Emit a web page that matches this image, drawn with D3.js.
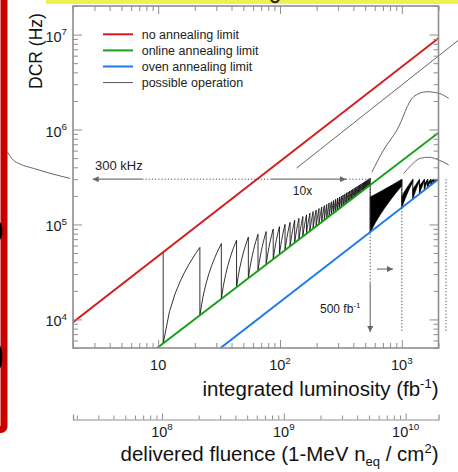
<!DOCTYPE html>
<html>
<head>
<meta charset="utf-8">
<script src="https://cdn.jsdelivr.net/npm/d3@7/dist/d3.min.js"></script>
<style>
html,body{margin:0;padding:0;background:#fff;}
svg{display:block;font-family:"Liberation Sans",Arial,Helvetica,sans-serif;}
</style>
</head>
<body>
<svg id="chart" width="458" height="472"></svg>
<script>
// ---------------- data ----------------
const lumiDomain = [2, 2000];              // integrated luminosity, fb^-1
const dcrDomain = [5e3, 2e7];              // dark count rate, Hz
const fluenceDomain = [1.86e7, 1.86e10];   // 1-MeV n_eq / cm^2

const lumiLabelTicks = [10, 100, 1000];
const dcrLabelTicks = [1e4, 1e5, 1e6, 1e7];
const fluenceLabelTicks = [1e8, 1e9, 1e10];

// limit lines (kHz)
const noAnnealLumi = [2, 2000];
const noAnnealKHz = [9.35, 9150];
const onlineLumi = [9.8, 2000];
const onlineKHz = [5.0, 925];
const ovenLumi = [32.5, 2000];
const ovenKHz = [5.0, 300];

// online-annealing sawtooth: annealing points, DCR just before and just after
const annealLumi = [11,22,33,44,55,66,77,88,99,110,121,132,143,154,165,176,187,198,209,220,231,242,253,264,275,286,297,308,319,330,341,352,363,374,385,396,407,418,429,440,451,462,473,484,495,506,517,528,539,550];
const peakKHz = [51.7,57.3,62.8,68.2,73.6,78.9,84.2,89.6,94.9,100.2,105.4,110.7,116.0,121.2,126.5,131.7,136.9,142.2,147.4,152.6,157.8,163.0,168.2,173.4,178.6,183.8,189.0,194.2,199.4,204.6,209.7,214.9,220.1,225.2,230.4,235.6,240.7,245.9,251.0,256.2,261.3,266.5,271.6,276.7,281.9,287.0,292.2,297.3,302.4,307.6];
const baseKHz = [5.6,11.1,16.5,21.9,27.2,32.5,37.9,43.2,48.5,53.7,59.0,64.3,69.5,74.8,80.0,85.2,90.5,95.7,100.9,106.1,111.3,116.5,121.7,126.9,132.1,137.3,142.5,147.7,152.9,158.0,163.2,168.4,173.5,178.7,183.9,189.0,194.2,199.3,204.5,209.6,214.8,219.9,225.0,230.2,235.3,240.5,245.6,250.7,255.9,82.5];

// dense operation bands after oven annealing
const bandStartLumi = [550, 1000, 1231, 1396, 1531, 1630, 1733, 1815, 1885, 1945];
const bandEndLumi = [1000, 1231, 1396, 1531, 1630, 1733, 1815, 1885, 1945, 2000];
const bandFloorKHz = [82.5, 150, 184.7, 209.4, 229.7, 244.5, 260, 272.3, 282.8, 291.8];
const bandUpperStartKHz = [195, 200, 235, 255, 268, 276, 284, 289, 293, 296];
const bandLowerEndKHz = [255, 280, 285, 288, 290, 292, 294, 296, 297, 298];
const capKHz = 300;

// other "possible operation" curves (kHz)
const op1Lumi = [137, 2940];
const op1KHz = [393, 8800];
const op2Lumi = [568, 708, 912, 1250, 1610, 2010, 2427];
const op2KHz = [356, 608, 988, 2220, 2500, 2410, 2130];
const op3Lumi = [1035, 1175, 1419, 1662, 2010, 2427];
const op3KHz = [345, 412, 498, 510, 478, 424];
// curve of the neighbouring panel visible at the left edge
const edgeLumi = [0.578, 0.647, 0.735, 0.944, 1.295, 1.89];
const edgeKHz = [583, 477, 433, 390, 346, 306];

// annotations (data coordinates)
const capLeftArrowLumi = [7.4, 2.9];
const capDotLumi = [7.4, 84];
const tenXArrowLumi = [84, 348];
const tenXDotLumi = [348, 550];
const markLumi = [550, 1000, 2305];
const markBottomKHz = 7.35;
const downArrowKHz = [24.1, 7.35];
const rightArrowLumi = [625, 846];
const rightArrowKHz = 33.9;

const legendLabels = ["no annealing limit", "online annealing limit", "oven annealing limit", "possible operation"];
const legendColors = ["#d41a1a", "#17a017", "#2079ec", "#555555"];
const legendWidths = [2, 2, 2, 1];

// ---------------- drawing ----------------
const svg = d3.select('#chart');
const P = {left: 73, right: 438.5, top: 6, bottom: 348};
const x = d3.scaleLog().domain(lumiDomain).range([P.left, P.right]);
const y = d3.scaleLog().domain(dcrDomain).range([P.bottom, P.top]);
const xf = d3.scaleLog().domain(fluenceDomain).range([P.left, P.right]);
const yk = v => y(v * 1e3);
const pts = (L, V) => L.map((l, i) => [l, V[i]]);
const lineK = d3.line().x(d => x(d[0])).y(d => yk(d[1]));
const isMajor = v => { const e = Math.log10(v); return Math.abs(e - Math.round(e)) < 1e-6; };
const AX = "#8e8e8e";

// slide decorations
svg.append('rect').attr('x', 46).attr('y', -2).attr('width', 420).attr('height', 6).attr('fill', '#eef150');
svg.append('path').attr('d', 'M271,0 Q275,4.5 279,0').attr('fill', 'none').attr('stroke', '#222').attr('stroke-width', 2);
svg.append('path').datum(pts(edgeLumi, edgeKHz))
  .attr('d', d3.line().x(d => x(d[0])).y(d => yk(d[1])).curve(d3.curveMonotoneX))
  .attr('fill', 'none').attr('stroke', '#666').attr('stroke-width', 1);
svg.append('rect').attr('x', -100).attr('y', -10).attr('width', 104).attr('height', 439.5).attr('rx', 3)
  .attr('fill', 'none').attr('stroke', '#c80000').attr('stroke-width', 7);
svg.append('ellipse').attr('cx', -3.5).attr('cy', 231).attr('rx', 6).attr('ry', 11).attr('fill', '#000');
svg.append('ellipse').attr('cx', -3.5).attr('cy', 357).attr('rx', 6).attr('ry', 14).attr('fill', '#000');

// clip
svg.append('defs').append('clipPath').attr('id', 'plotclip').append('rect')
  .attr('x', P.left).attr('y', P.top).attr('width', P.right - P.left).attr('height', P.bottom - P.top);
const defs = svg.select('defs');
defs.append('marker').attr('id', 'ah').attr('viewBox', '0 0 10 10').attr('refX', 10).attr('refY', 5)
  .attr('markerWidth', 7).attr('markerHeight', 6).attr('markerUnits', 'userSpaceOnUse').attr('orient', 'auto')
  .append('path').attr('d', 'M0,0 L10,5 L0,10 z').attr('fill', '#666');

const clipG = svg.append('g').attr('clip-path', 'url(#plotclip)');

// sawtooth (black, thin)
const riseSteps = 8;
function rise(L0, v0, L1, v1) {
  const iL = d3.interpolateNumber(L0, L1), iV = d3.interpolateNumber(v0, v1);
  return d3.range(riseSteps + 1).map(i => [iL(i / riseSteps), iV(i / riseSteps)]);
}
let saw = [];
annealLumi.forEach((L, k) => {
  saw.push([L, peakKHz[k]]);
  saw.push([L, baseKHz[k]]);
  if (k < annealLumi.length - 1) saw = saw.concat(rise(L, baseKHz[k], annealLumi[k + 1], peakKHz[k + 1]).slice(1, -1));
});
clipG.append('path').datum(saw).attr('d', lineK).attr('fill', 'none').attr('stroke', '#000').attr('stroke-width', 0.8);

// dense bands
bandStartLumi.forEach((Ls, i) => {
  const Le = bandEndLumi[i];
  if (i > 0) {
    clipG.append('path').datum([[Ls, capKHz], [Ls, bandFloorKHz[i]]]).attr('d', lineK)
      .attr('stroke', '#000').attr('stroke-width', 0.9);
  }
  const upper = rise(Ls, bandUpperStartKHz[i], Le, capKHz);
  const lower = rise(Ls, bandFloorKHz[i], Le, bandLowerEndKHz[i]).reverse();
  const poly = [[Ls, bandFloorKHz[i]]].concat(upper, lower);
  clipG.append('path').datum(poly).attr('d', d => lineK(d) + 'Z')
    .attr('fill', '#000').attr('stroke', '#000').attr('stroke-width', 0.6);
});

// limit lines
[[noAnnealLumi, noAnnealKHz, legendColors[0]], [onlineLumi, onlineKHz, legendColors[1]], [ovenLumi, ovenKHz, legendColors[2]]]
  .forEach(([L, V, c]) => {
    clipG.append('path').datum(pts(L, V)).attr('d', lineK).attr('fill', 'none').attr('stroke', c).attr('stroke-width', 2);
  });

// possible operation curves (extend beyond frame)
const curveK = d3.line().x(d => x(d[0])).y(d => yk(d[1])).curve(d3.curveMonotoneX);
[[op1Lumi, op1KHz], [op2Lumi, op2KHz], [op3Lumi, op3KHz]].forEach(([L, V]) => {
  svg.append('path').datum(pts(L, V)).attr('d', curveK).attr('fill', 'none').attr('stroke', '#666').attr('stroke-width', 1);
});

// frame
svg.append('rect').attr('x', P.left).attr('y', P.top).attr('width', P.right - P.left).attr('height', P.bottom - P.top)
  .attr('fill', 'none').attr('stroke', AX).attr('stroke-width', 1.6);

function inTicks(axisGen, tr, attr, major, minor, sign, scale) {
  const g = svg.append('g').attr('transform', tr)
    .call(axisGen.tickValues(scale.ticks()).tickSize(major).tickSizeOuter(0).tickFormat(''));
  g.select('.domain').remove();
  g.selectAll('.tick line').attr(attr, d => sign * (isMajor(d) ? major : minor)).attr('stroke', AX).attr('stroke-width', 1);
}
inTicks(d3.axisRight(y), `translate(${P.left},0)`, 'x2', 9, 5, 1, y);
inTicks(d3.axisLeft(y), `translate(${P.right},0)`, 'x2', 9, 5, -1, y);
inTicks(d3.axisTop(x), `translate(0,${P.bottom})`, 'y2', 8, 5, -1, x);
inTicks(d3.axisBottom(x), `translate(0,${P.top})`, 'y2', 8, 5, 1, x);

// fluence axis
const fy = 419.5;
const fg = svg.append('g').attr('transform', `translate(0,${fy})`)
  .call(d3.axisTop(xf).tickValues(xf.ticks()).tickSize(6).tickSizeOuter(5).tickFormat(''));
fg.select('.domain').attr('stroke', AX).attr('stroke-width', 1.2);
fg.selectAll('.tick line').attr('y2', d => isMajor(d) ? -6 : -4).attr('stroke', AX);

// tick labels
function powText(v, px, py, anchor, size) {
  const e = Math.round(Math.log10(v));
  const t = svg.append('text').attr('x', px).attr('y', py).attr('text-anchor', anchor)
    .attr('font-size', size).attr('fill', '#1a1a1a');
  t.append('tspan').text('10');
  if (e !== 1) t.append('tspan').attr('font-size', size * 0.68).attr('dy', -size * 0.42).text(e);
}
dcrLabelTicks.forEach(v => powText(v, 67, y(v) + 7, 'end', 14.5));
lumiLabelTicks.forEach(v => powText(v, x(v), 370, 'middle', 14.5));
fluenceLabelTicks.forEach(v => powText(v, xf(v), 436.5, 'middle', 14.5));

// axis titles
const t1 = svg.append('text').attr('x', P.right).attr('y', 396).attr('text-anchor', 'end').attr('font-size', 20.5).attr('fill', '#111');
t1.append('tspan').text('integrated luminosity (fb');
t1.append('tspan').attr('font-size', 13).attr('dy', -8).text('-1');
t1.append('tspan').attr('dy', 8).text(')');

const t2 = svg.append('text').attr('x', P.right).attr('y', 461).attr('text-anchor', 'end').attr('font-size', 20.5).attr('fill', '#111');
t2.append('tspan').text('delivered fluence (1-MeV n');
t2.append('tspan').attr('font-size', 13).attr('dy', 5).text('eq');
t2.append('tspan').attr('dy', -5).text(' / cm');
t2.append('tspan').attr('font-size', 13).attr('dy', -8).text('2');
t2.append('tspan').attr('dy', 8).text(')');

svg.append('text').attr('transform', 'translate(42,51) rotate(-90)').attr('text-anchor', 'middle')
  .attr('font-size', 17.5).attr('fill', '#111').text('DCR (Hz)');

// legend
const lg = svg.append('g').attr('transform', 'translate(103,34.3)');
legendLabels.forEach((lab, i) => {
  const row = lg.append('g').attr('transform', `translate(0,${i * 16.1})`);
  row.append('line').attr('x1', 0).attr('x2', 30).attr('stroke', legendColors[i]).attr('stroke-width', legendWidths[i]);
  row.append('text').attr('x', 38.7).attr('y', 4.5).attr('font-size', 12.5).attr('fill', '#222').text(lab);
});

// annotations
const ann = svg.append('g');
const hl = (L0, L1, v) => [[L0, v], [L1, v]];
ann.append('path').datum(hl(capLeftArrowLumi[0], capLeftArrowLumi[1], capKHz)).attr('d', lineK)
  .attr('stroke', '#777').attr('stroke-width', 1.2).attr('marker-end', 'url(#ah)');
ann.append('path').datum(hl(capDotLumi[0], capDotLumi[1], capKHz)).attr('d', lineK)
  .attr('stroke', '#555').attr('stroke-width', 1).attr('stroke-dasharray', '1.2,2');
ann.append('path').datum(hl(tenXArrowLumi[0], tenXArrowLumi[1], capKHz)).attr('d', lineK)
  .attr('stroke', '#777').attr('stroke-width', 1.2).attr('marker-end', 'url(#ah)');
ann.append('path').datum(hl(tenXDotLumi[0], tenXDotLumi[1], capKHz)).attr('d', lineK)
  .attr('stroke', '#555').attr('stroke-width', 1).attr('stroke-dasharray', '1.2,2');
markLumi.forEach((L, i) => {
  const bottom = i === 0 ? downArrowKHz[0] : markBottomKHz;
  ann.append('path').datum([[L, capKHz], [L, bottom]]).attr('d', lineK)
    .attr('stroke', '#444').attr('stroke-width', 1).attr('stroke-dasharray', '1.2,2');
});
ann.append('path').datum([[markLumi[0], downArrowKHz[0]], [markLumi[0], downArrowKHz[1]]]).attr('d', lineK)
  .attr('stroke', '#777').attr('stroke-width', 1.2).attr('marker-end', 'url(#ah)');
ann.append('path').datum(hl(rightArrowLumi[0], rightArrowLumi[1], rightArrowKHz)).attr('d', lineK)
  .attr('stroke', '#777').attr('stroke-width', 1.2).attr('marker-end', 'url(#ah)');

ann.append('text').attr('x', x(3.03)).attr('y', yk(374)).attr('font-size', 13).attr('fill', '#222').text('300 kHz');
ann.append('text').attr('x', x(153)).attr('y', yk(204)).attr('text-anchor', 'middle').attr('font-size', 12).attr('fill', '#222').text('10x');
const t5 = ann.append('text').attr('x', x(213)).attr('y', yk(11.56)).attr('font-size', 12).attr('fill', '#222');
t5.append('tspan').text('500 fb');
t5.append('tspan').attr('font-size', 8).attr('dy', -5).text('-1');
</script>
</body>
</html>
